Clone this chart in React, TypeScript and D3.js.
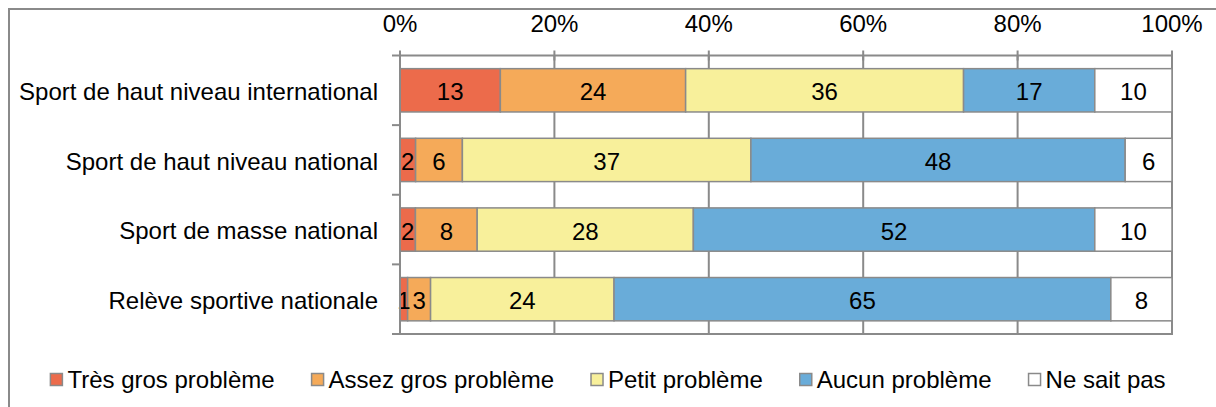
import React, { useEffect, useRef } from "react";
import * as d3 from "d3";

// Survey categories (rows) and response series (stacked segments, in %)
const categories = [
  "Sport de haut niveau international",
  "Sport de haut niveau national",
  "Sport de masse national",
  "Relève sportive nationale",
];
const seriesNames = [
  "Très gros problème",
  "Assez gros problème",
  "Petit problème",
  "Aucun problème",
  "Ne sait pas",
];
const tresGros = [13, 2, 2, 1];
const assezGros = [24, 6, 8, 3];
const petit = [36, 37, 28, 24];
const aucun = [17, 48, 52, 65];
const neSaitPas = [10, 6, 10, 8];
const tickValues = [0, 0.2, 0.4, 0.6, 0.8, 1];

const colors = ["#EC6B4B", "#F5AA59", "#F8F09B", "#69ACD9", "#FFFFFF"];
const W = 1216;
const H = 407;
const FONT = "'Liberation Sans', Arial, sans-serif";
const FS = 24;
const GRID = "#8a8a8a";

export default function App() {
  const ref = useRef<SVGSVGElement>(null);

  useEffect(() => {
    const svg = d3.select(ref.current);
    svg.selectAll("*").remove();

    const seriesValues = [tresGros, assezGros, petit, aucun, neSaitPas];
    const rows = categories.map((c, i) => {
      const r: any = { category: c };
      seriesNames.forEach((s, j) => (r[s] = seriesValues[j][i]));
      return r;
    });
    const stacked = d3
      .stack<any>()
      .keys(seriesNames)
      .offset(d3.stackOffsetExpand)(rows);

    const x = d3.scaleLinear().domain([0, 1]).range([400, 1172]);
    const y = d3
      .scaleBand<string>()
      .domain(categories)
      .range([55.5, 334])
      .paddingInner(0.378)
      .paddingOuter(0.189);

    // outer frame
    svg
      .append("rect")
      .attr("x", 9)
      .attr("y", 9)
      .attr("width", 1400)
      .attr("height", 600)
      .attr("fill", "white")
      .attr("stroke", GRID)
      .attr("stroke-width", 2);

    const [y0, y1] = y.range();

    // vertical gridlines
    svg
      .append("g")
      .selectAll("line")
      .data(tickValues.slice(1))
      .join("line")
      .attr("x1", (d) => x(d))
      .attr("x2", (d) => x(d))
      .attr("y1", y0)
      .attr("y2", y1)
      .attr("stroke", GRID)
      .attr("stroke-width", 2);

    // bottom edge of plot
    svg
      .append("line")
      .attr("x1", 392)
      .attr("x2", x(1) + 1)
      .attr("y1", y1)
      .attr("y2", y1)
      .attr("stroke", GRID)
      .attr("stroke-width", 2);

    // stacked bars
    const g = svg.append("g");
    stacked.forEach((layer, j) => {
      g.append("g")
        .selectAll("rect")
        .data(layer)
        .join("rect")
        .attr("x", (d) => x(d[0]))
        .attr("width", (d) => x(d[1]) - x(d[0]))
        .attr("y", (d) => y(d.data.category)!)
        .attr("height", y.bandwidth())
        .attr("fill", colors[j])
        .attr("stroke", GRID)
        .attr("stroke-width", 1.5);
    });

    // value labels
    stacked.forEach((layer, j) => {
      g.append("g")
        .selectAll("text")
        .data(layer)
        .join("text")
        .attr("x", (d) => (x(d[0]) + x(d[1])) / 2)
        .attr("y", (d) => y(d.data.category)! + y.bandwidth() / 2)
        .attr("dy", "0.42em")
        .attr("text-anchor", "middle")
        .attr("font-family", FONT)
        .attr("font-size", FS)
        .attr("fill", "#000")
        .text((d) => d.data[seriesNames[j]]);
    });

    // category axis (left)
    svg
      .append("line")
      .attr("x1", x(0))
      .attr("x2", x(0))
      .attr("y1", y0)
      .attr("y2", y1)
      .attr("stroke", GRID)
      .attr("stroke-width", 2);
    const bounds = [y0, ...categories.map((c) => y(c)! - (y.step() - y.bandwidth()) / 2 + y.step())];
    svg
      .append("g")
      .selectAll("line")
      .data(bounds)
      .join("line")
      .attr("x1", 392)
      .attr("x2", x(0))
      .attr("y1", (d) => d)
      .attr("y2", (d) => d)
      .attr("stroke", GRID)
      .attr("stroke-width", 2);
    svg
      .append("g")
      .selectAll("text")
      .data(categories)
      .join("text")
      .attr("x", 378)
      .attr("y", (d) => y(d)! + y.bandwidth() / 2)
      .attr("dy", "0.4em")
      .attr("text-anchor", "end")
      .attr("font-family", FONT)
      .attr("font-size", FS)
      .attr("fill", "#000")
      .text((d) => d);

    // value axis (top)
    svg
      .append("line")
      .attr("x1", x(0))
      .attr("x2", x(1))
      .attr("y1", y0)
      .attr("y2", y0)
      .attr("stroke", GRID)
      .attr("stroke-width", 2);
    svg
      .append("g")
      .selectAll("line")
      .data(tickValues)
      .join("line")
      .attr("x1", (d) => x(d))
      .attr("x2", (d) => x(d))
      .attr("y1", y0 - 5)
      .attr("y2", y0 + 5)
      .attr("stroke", GRID)
      .attr("stroke-width", 2);
    const fmt = d3.format(".0%");
    svg
      .append("g")
      .selectAll("text")
      .data(tickValues)
      .join("text")
      .attr("x", (d) => x(d))
      .attr("y", 32)
      .attr("text-anchor", "middle")
      .attr("font-family", FONT)
      .attr("font-size", FS)
      .attr("fill", "#000")
      .text((d) => fmt(d));

    // legend, centred horizontally
    const legend = svg.append("g");
    const items = seriesNames.map((name, j) => {
      const it = legend.append("g");
      it.append("rect")
        .attr("x", 0)
        .attr("y", 373.5)
        .attr("width", 12)
        .attr("height", 12)
        .attr("fill", colors[j])
        .attr("stroke", GRID)
        .attr("stroke-width", 1.5);
      const t = it
        .append("text")
        .attr("x", 17)
        .attr("y", 387.5)
        .attr("font-family", FONT)
        .attr("font-size", FS)
        .attr("fill", "#000")
        .text(name);
      const w = 17 + (t.node() as SVGTextElement).getComputedTextLength();
      return { it, w };
    });
    const gap = 37;
    const total = d3.sum(items, (d) => d.w) + gap * (items.length - 1);
    let cx = 608 - total / 2;
    items.forEach(({ it, w }) => {
      it.attr("transform", `translate(${cx},0)`);
      cx += w + gap;
    });
  }, []);

  return (
    <svg
      ref={ref}
      width={W}
      height={H}
      style={{ position: "absolute", left: 0, top: 0, background: "white" }}
    />
  );
}
